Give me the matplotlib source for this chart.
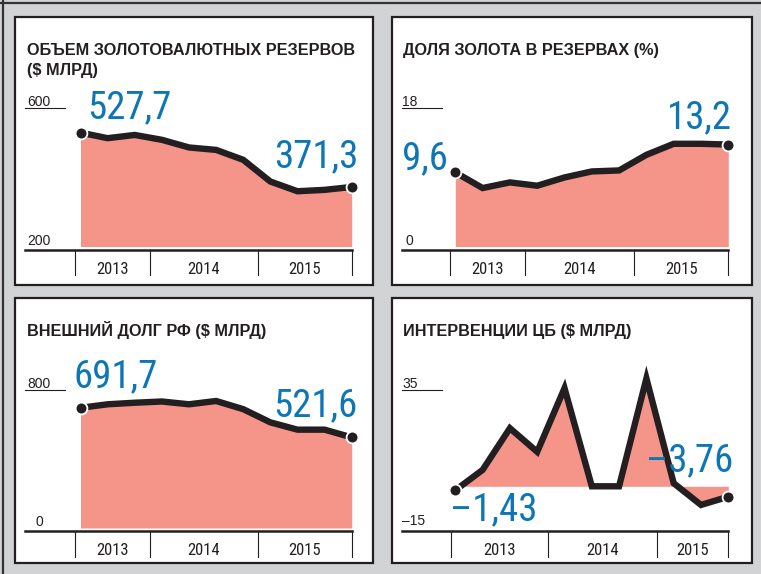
import matplotlib
matplotlib.use('Agg')
import matplotlib.pyplot as plt
from matplotlib import font_manager
from matplotlib.lines import Line2D
from matplotlib.patches import Rectangle
from matplotlib.transforms import Affine2D, blended_transform_factory

# ---------------- data ----------------
periods = list(range(11))
reserves = [527.7, 511.7, 521, 507, 485, 478, 449.5, 387, 359, 363, 371.3]
gold_share = [9.6, 7.57, 8.3, 7.87, 8.94, 9.72, 9.85, 11.87, 13.3, 13.3, 13.2]
debt = [691.7, 712, 721, 728, 712, 731, 684, 608, 566, 566, 521.6]
interventions = [-1.43, 5.9, 20.9, 12.4, 35.3, 0, 0, 38.8, 1.1, -6.7, -3.76]

years = ['2013', '2014', '2015']
year_edges_main = [-0.2, 2.55, 6.55, 10]
year_edges_cb = [-0.14, 3.4, 7.37, 10]

titles = [['ОБЪЕМ ЗОЛОТОВАЛЮТНЫХ РЕЗЕРВОВ', '($ МЛРД)'],
          ['ДОЛЯ ЗОЛОТА В РЕЗЕРВАХ (%)'],
          ['ВНЕШНИЙ ДОЛГ РФ ($ МЛРД)'],
          ['ИНТЕРВЕНЦИИ ЦБ ($ МЛРД)']]
y_ranges = [(200, 600), (0, 18), (0, 800), (-15, 35)]
tick_labels = [('600', '200'), ('18', '0'), ('800', '0'), ('35', '–15')]
value_labels = [('527,7', '371,3'), ('9,6', '13,2'), ('691,7', '521,6'), ('–1,43', '–3,76')]
series = [reserves, gold_share, debt, interventions]
edges = [year_edges_main, year_edges_main, year_edges_main, year_edges_cb]

# ---------------- style ----------------
W, H = 761, 574
BG = '#d1d3d4'
FILL = '#f5958a'
LINE = '#231f20'
BLUE = '#0d76b5'
TXT = '#231f20'

avail = {f.name for f in font_manager.fontManager.ttflist}
REG = 'Liberation Sans' if 'Liberation Sans' in avail else 'DejaVu Sans'
NARROW = next((f for f in ['Roboto Condensed', 'Archivo Narrow', 'PT Sans Narrow',
                           'Arimo', 'Liberation Sans'] if f in avail), 'DejaVu Sans')

BIG = 28
YRS = 12

fig = plt.figure(figsize=(W / 100, H / 100), dpi=100)
fig.patch.set_facecolor(BG)
T = Affine2D().scale(1 / W, -1 / H).translate(0, 1) + fig.transFigure


def pline(xs, ys, **kw):
    fig.add_artist(Line2D(xs, ys, transform=T, **kw))


# outer frame (top / left)
pline([0, W], [2.5, 2.5], color='#333333', lw=1.6)
pline([2.5, 2.5], [0, H], color='#333333', lw=1.6)

# panel layout (pixels, top-left origin)
layout = [
    dict(box=(15, 16.7, 373, 285), x0=80.5, x1=351.7, ytop=107.5, ybot=246.5,
         tx=27, ty=55, ticks=((27, 106.5), (27, 245)), ul=(25, 65), base=(25, 249.5),
         sep_bot=275, yr_base=273.5,
         offs=(('left', 6.5, 14.3), ('right', 6.3, 19.7))),
    dict(box=(391.7, 16.7, 751.7, 285), x0=455.3, x1=728.3, ytop=107.5, ybot=246.5,
         tx=403, ty=55, ticks=((402, 106.5), (405, 245)), ul=(402, 442), base=(401.7, 249.5),
         sep_bot=275, yr_base=273.5,
         offs=(('right', -7, 2.7), ('right', 3.7, 16))),
    dict(box=(15, 298.3, 373, 563.3), x0=80.5, x1=351.7, ytop=389, ybot=528,
         tx=27, ty=336, ticks=((27, 388), (35, 525.5)), ul=(25, 65), base=(25, 530.5),
         sep_bot=556.7, yr_base=555,
         offs=(('left', -7, 21), ('right', 5.3, 20.7))),
    dict(box=(391.7, 298.3, 751.7, 563.3), x0=455.3, x1=728.3, ytop=389, ybot=528,
         tx=403, ty=336, ticks=((402, 388), (402, 525)), ul=(402, 442), base=(401.7, 530.5),
         sep_bot=556.7, yr_base=555,
         offs=(('left', -5, -30), ('right', 4.7, 25.3))),
]

for i, L in enumerate(layout):
    bx0, by0, bx1, by1 = L['box']
    fig.add_artist(Rectangle((bx0, by1), bx1 - bx0, by0 - by1, transform=T,
                             facecolor='white', edgecolor=LINE, lw=1.6, zorder=0))
    ax = fig.add_axes([L['x0'] / W, 1 - L['ybot'] / H,
                       (L['x1'] - L['x0']) / W, (L['ybot'] - L['ytop']) / H])
    ax.set_xlim(0, 10)
    ymin, ymax = y_ranges[i]
    ax.set_ylim(ymin, ymax)
    ax.axis('off')
    ax.patch.set_alpha(0)

    vals = series[i]
    base_v = 0 if ymin < 0 else ymin
    ax.fill_between(periods, vals, base_v, color=FILL, lw=0, zorder=1)
    ax.plot(periods, vals, color=LINE, lw=4.6, solid_joinstyle='miter',
            solid_capstyle='butt', clip_on=False, zorder=3)
    ax.plot([periods[0], periods[-1]], [vals[0], vals[-1]], 'o', ms=8.5,
            mfc=LINE, mec='white', mew=1.3, clip_on=False, zorder=4)

    # value labels
    for (ha, dx, dy), idx, txt in zip(L['offs'], (0, -1), value_labels[i]):
        ax.annotate(txt, xy=(periods[idx], vals[idx]), xytext=(dx, dy),
                    textcoords='offset pixels', ha=ha, va='baseline',
                    fontsize=BIG, family=NARROW, color=BLUE, zorder=5,
                    annotation_clip=False)

    # title (one text per line)
    for k, line in enumerate(titles[i]):
        fig.text(L['tx'], L['ty'] + 19.5 * k, line, transform=T,
                 ha='left', va='baseline', fontsize=11.7, fontweight='bold',
                 family=REG, color=TXT)

    # y tick labels
    (tx1, ty1), (tx2, ty2) = L['ticks']
    fig.text(tx1, ty1, tick_labels[i][0], transform=T, ha='left', va='baseline',
             fontsize=10, family=REG, color=TXT)
    fig.text(tx2, ty2, tick_labels[i][1], transform=T, ha='left', va='baseline',
             fontsize=10, family=REG, color=TXT)
    pline([L['ul'][0], L['ul'][1]], [L['ytop'] + 0.5, L['ytop'] + 0.5], color=TXT, lw=0.8)

    # baseline
    bt = blended_transform_factory(ax.transData, T)
    xb0 = L['base'][0]
    fig.add_artist(Line2D([xb0, L['x1']], [L['base'][1]] * 2, transform=T,
                          color=LINE, lw=1.8))
    # year separators and labels
    e = edges[i]
    for xe in e:
        fig.add_artist(Line2D([xe, xe], [L['base'][1], L['sep_bot']], transform=bt,
                              color=LINE, lw=0.8))
    for k, yr in enumerate(years):
        fig.text((e[k] + e[k + 1]) / 2, L['yr_base'], yr, transform=bt,
                 ha='center', va='baseline', fontsize=YRS, family=NARROW, color=TXT)

fig.savefig('out.png', dpi=100, facecolor=BG)
